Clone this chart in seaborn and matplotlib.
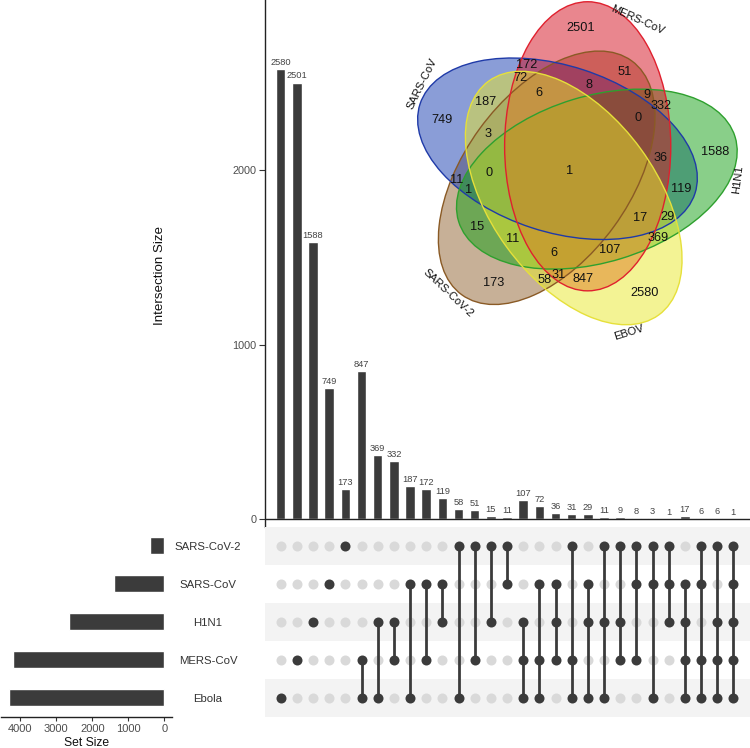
"""
UpSet plot of shared host factors between five viruses,
with the matching 5-set Venn diagram as an inset.
"""
import numpy as np
import pandas as pd
import matplotlib
matplotlib.use('Agg')
import matplotlib.pyplot as plt
from matplotlib.patches import Ellipse
import seaborn as sns

# ---------------------------------------------------------------- data
# matrix rows, top to bottom
set_names = ['SARS-CoV-2', 'SARS-CoV', 'H1N1', 'MERS-CoV', 'Ebola']
venn_names = ['SARS-CoV-2', 'SARS-CoV', 'H1N1', 'MERS-CoV', 'EBOV']

# intersections, in bar order
combos = [
    'Ebola', 'MERS-CoV', 'H1N1', 'SARS-CoV', 'SARS-CoV-2',
    'MERS-CoV&Ebola', 'H1N1&Ebola', 'H1N1&MERS-CoV', 'SARS-CoV&Ebola',
    'SARS-CoV&MERS-CoV', 'SARS-CoV&H1N1', 'SARS-CoV-2&Ebola',
    'SARS-CoV-2&MERS-CoV', 'SARS-CoV-2&H1N1', 'SARS-CoV-2&SARS-CoV',
    'H1N1&MERS-CoV&Ebola', 'SARS-CoV&MERS-CoV&Ebola', 'SARS-CoV&H1N1&MERS-CoV',
    'SARS-CoV-2&MERS-CoV&Ebola', 'SARS-CoV&H1N1&Ebola', 'SARS-CoV-2&H1N1&Ebola',
    'SARS-CoV-2&H1N1&MERS-CoV', 'SARS-CoV-2&SARS-CoV&MERS-CoV',
    'SARS-CoV-2&SARS-CoV&Ebola', 'SARS-CoV-2&SARS-CoV&H1N1',
    'SARS-CoV&H1N1&MERS-CoV&Ebola', 'SARS-CoV-2&SARS-CoV&MERS-CoV&Ebola',
    'SARS-CoV-2&H1N1&MERS-CoV&Ebola', 'SARS-CoV-2&SARS-CoV&H1N1&MERS-CoV&Ebola',
]
counts = [2580, 2501, 1588, 749, 173, 847, 369, 332, 187, 172, 119, 58, 51, 15, 11,
          107, 72, 36, 31, 29, 11, 9, 8, 3, 1, 17, 6, 6, 1]

# ---------------------------------------------------------------- style
DARK = '#3b3b3b'
LIGHT = '#d9d9d9'
STRIPE = '#f3f3f3'
TICK_GREY = '#4d4d4d'
venn_fill = ['#916230', '#173cb0', '#14a014', '#d40f1e', '#e8e82a']
venn_edge = ['#8a5a25', '#1f3aa8', '#2ea02e', '#e0202e', '#e6e03a']

sns.set_theme(style='white')
plt.rcParams['font.family'] = ['Liberation Sans', 'DejaVu Sans']

member = np.array([[s in c.split('&') for c in combos] for s in set_names])
set_sizes = (member * np.array(counts)).sum(axis=1)
n = len(combos)

W, H = 750, 748
fig = plt.figure(figsize=(W / 100, H / 100), dpi=100)


def px_axes(x0, y0, x1, y1):
    return fig.add_axes([x0 / W, 1 - y1 / H, (x1 - x0) / W, (y1 - y0) / H])


ax_bar = px_axes(265, 0, 750, 526.7)
ax_mat = px_axes(265, 526.7, 750, 716.7)
ax_set = px_axes(1, 526.7, 172, 716.7)
XLIM = (-0.97, 29.03)

# ---------------------------------------------------------------- intersection bars
df = pd.DataFrame({'combo': combos, 'count': counts})
sns.barplot(data=df, x='combo', y='count', order=combos, color=DARK, saturation=1,
            width=0.58, errorbar=None, ax=ax_bar)
ax_bar.bar_label(ax_bar.containers[0], padding=1.5, fontsize=6.7, color='#444444')
ax_bar.set_xlim(*XLIM)
ax_bar.set_ylim(-44, 2974)
ax_bar.axhline(0, color='#222222', lw=1.0, zorder=3)
ax_bar.set_xticks([])
ax_bar.set_yticks([0, 1000, 2000])
ax_bar.tick_params(axis='y', length=4, width=0.8, color='#333333', labelsize=7.8,
                   labelcolor=TICK_GREY, pad=2, left=True)
for side in ['top', 'right', 'bottom']:
    ax_bar.spines[side].set_visible(False)
ax_bar.spines['left'].set_color('#222222')
ax_bar.spines['left'].set_linewidth(1.0)
ax_bar.set_xlabel('')
ax_bar.set_ylabel('Intersection Size', fontsize=9.6, color='#111111')
ax_bar.yaxis.set_label_coords(-0.2047, 0.476)

# ---------------------------------------------------------------- matrix
grid = pd.DataFrame([(j, i, bool(member[i, j])) for i in range(5) for j in range(n)],
                    columns=['col', 'row', 'hit'])
for i in range(0, 5, 2):
    ax_mat.axhspan(i - 0.5, i + 0.5, color=STRIPE, lw=0, zorder=0)
sns.scatterplot(data=grid[~grid.hit], x='col', y='row', color=LIGHT, s=52,
                linewidth=0, ax=ax_mat, zorder=2)
for j in range(n):
    rows = np.where(member[:, j])[0]
    if len(rows) > 1:
        ax_mat.vlines(j, rows.min(), rows.max(), color=DARK, lw=2.0, zorder=3)
sns.scatterplot(data=grid[grid.hit], x='col', y='row', color=DARK, s=52,
                linewidth=0, ax=ax_mat, zorder=4)
ax_mat.set_xlim(*XLIM)
ax_mat.set_ylim(4.5, -0.5)
ax_mat.set_xticks([])
ax_mat.set_yticks(range(5), set_names)
ax_mat.tick_params(axis='y', length=0, pad=41, labelsize=8.2, labelcolor='#333333')
for lab in ax_mat.get_yticklabels():
    lab.set_ha('center')
for sp in ax_mat.spines.values():
    sp.set_visible(False)
ax_mat.set_xlabel('')
ax_mat.set_ylabel('')

# ---------------------------------------------------------------- set sizes
sdf = pd.DataFrame({'set': set_names, 'size': set_sizes})
sns.barplot(data=sdf, x='size', y='set', order=set_names, orient='h', color=DARK,
            saturation=1, width=0.45, errorbar=None, ax=ax_set)
ax_set.set_xlim(4540, -216)
ax_set.set_ylim(4.5, -0.5)
ax_set.set_yticks([])
ax_set.set_xticks([0, 1000, 2000, 3000, 4000])
ax_set.tick_params(axis='x', length=3, width=0.8, color='#333333', labelsize=8,
                   labelcolor=TICK_GREY, pad=2, bottom=True)
for side in ['top', 'right', 'left']:
    ax_set.spines[side].set_visible(False)
ax_set.spines['bottom'].set_color('#222222')
ax_set.spines['bottom'].set_linewidth(1.0)
ax_set.set_ylabel('')
ax_set.set_xlabel('Set Size', fontsize=8.7, color='#111111')
ax_set.xaxis.set_label_coords(0.501, -0.105)

# ---------------------------------------------------------------- venn inset
# five-ellipse Venn layout (same order as set_names): centre x, y, angle
EA, EB = 0.435, 0.25
base = [(0.422, 0.432, 62), (0.442, 0.523, 170), (0.572, 0.449, 25),
        (0.531, 0.543, 98), (0.511, 0.383, 134)]
ROT = np.deg2rad(-8)
geom = []
for x, y, a in base:
    dx, dy = x - 0.5, y - 0.5
    geom.append((dx * np.cos(ROT) - dy * np.sin(ROT),
                 dx * np.sin(ROT) + dy * np.cos(ROT),
                 a + np.rad2deg(ROT)))


def inside(px, py, e):
    cx, cy, ang = e
    t = np.deg2rad(ang)
    u = (px - cx) * np.cos(t) + (py - cy) * np.sin(t)
    v = -(px - cx) * np.sin(t) + (py - cy) * np.cos(t)
    return (u / EA) ** 2 + (v / EB) ** 2 <= 1


def pole(mask, g):
    depth = np.zeros(mask.shape, int)
    cur = mask.copy()
    step = 0
    while cur.any():
        depth += cur
        nxt = cur.copy()
        nxt[1:, :] &= cur[:-1, :]
        nxt[:-1, :] &= cur[1:, :]
        nxt[:, 1:] &= cur[:, :-1]
        nxt[:, :-1] &= cur[:, 1:]
        if step % 2:
            nxt[1:, 1:] &= cur[:-1, :-1]
            nxt[:-1, :-1] &= cur[1:, 1:]
            nxt[1:, :-1] &= cur[:-1, 1:]
            nxt[:-1, 1:] &= cur[1:, :-1]
        cur = nxt
        step += 1
    iy, ix = np.unravel_index(depth.argmax(), depth.shape)
    return g[ix], g[iy]


fg = np.linspace(-0.6, 0.6, 401)
FX, FY = np.meshgrid(fg, fg)
code = np.zeros(FX.shape, int)
for i, e in enumerate(geom):
    code |= inside(FX, FY, e).astype(int) << i

ys, xs = np.nonzero(code > 0)
xmin, xmax, ymin, ymax = fg[xs.min()], fg[xs.max()], fg[ys.min()], fg[ys.max()]
wx, wy = xmax - xmin, ymax - ymin
scale = min(319 / wx, 323 / wy)
cxp, cyp = 577.5, 163.5
top_px, left_px = cyp - scale * wy / 2, cxp - scale * wx / 2
ax_venn = px_axes(left_px, top_px, cxp + scale * wx / 2, cyp + scale * wy / 2)
ax_venn.set_xlim(xmin, xmax)
ax_venn.set_ylim(ymin, ymax)
ax_venn.axis('off')

for i, (cx, cy, a) in enumerate(geom):
    ax_venn.add_patch(Ellipse((cx, cy), 2 * EA, 2 * EB, angle=a, facecolor=venn_fill[i],
                              alpha=0.5, edgecolor='none', clip_on=False))
for i, (cx, cy, a) in enumerate(geom):
    ax_venn.add_patch(Ellipse((cx, cy), 2 * EA, 2 * EB, angle=a, fill=False,
                              edgecolor=venn_edge[i], lw=1.0, clip_on=False))

lookup = {frozenset(c.split('&')): v for c, v in zip(combos, counts)}
singles = {}
for m in range(1, 32):
    mask = code == m
    if not mask.any():
        continue
    px, py = pole(mask, fg)
    idx = [i for i in range(5) if m >> i & 1]
    names = frozenset(set_names[i] for i in idx)
    ax_venn.text(px, py, str(lookup.get(names, 0)), ha='center', va='center',
                 fontsize=9.2, color='#111111')
    if len(idx) == 1:
        singles[idx[0]] = (px, py)

# set names just outside each shape, turned along the rim
ts = np.linspace(0, 0.8, 1601)
margin = 8 / scale
y_top = ymax - (17 - top_px) / scale
x_right = xmin + (744 - left_px) / scale


def rim_point(ang, e):
    u = np.array([np.cos(ang), np.sin(ang)])
    inn = inside(ts * u[0], ts * u[1], e)
    return (ts[inn].max() + margin) * u


for i, (px, py) in singles.items():
    ang = np.arctan2(py, px) - np.deg2rad(10)
    lx, ly = rim_point(ang, geom[i])
    # slide clockwise along the rim until the name fits under the top edge
    while ly > y_top:
        ang -= np.deg2rad(2)
        lx, ly = rim_point(ang, geom[i])
    lx = min(lx, x_right)
    rot = np.rad2deg(ang) - 90
    while rot <= -90:
        rot += 180
    while rot > 90:
        rot -= 180
    ax_venn.text(lx, ly, venn_names[i], ha='center', va='center', rotation=rot,
                 rotation_mode='anchor', fontsize=8, color='#111111', clip_on=False)

fig.savefig('out.png', dpi=100)
